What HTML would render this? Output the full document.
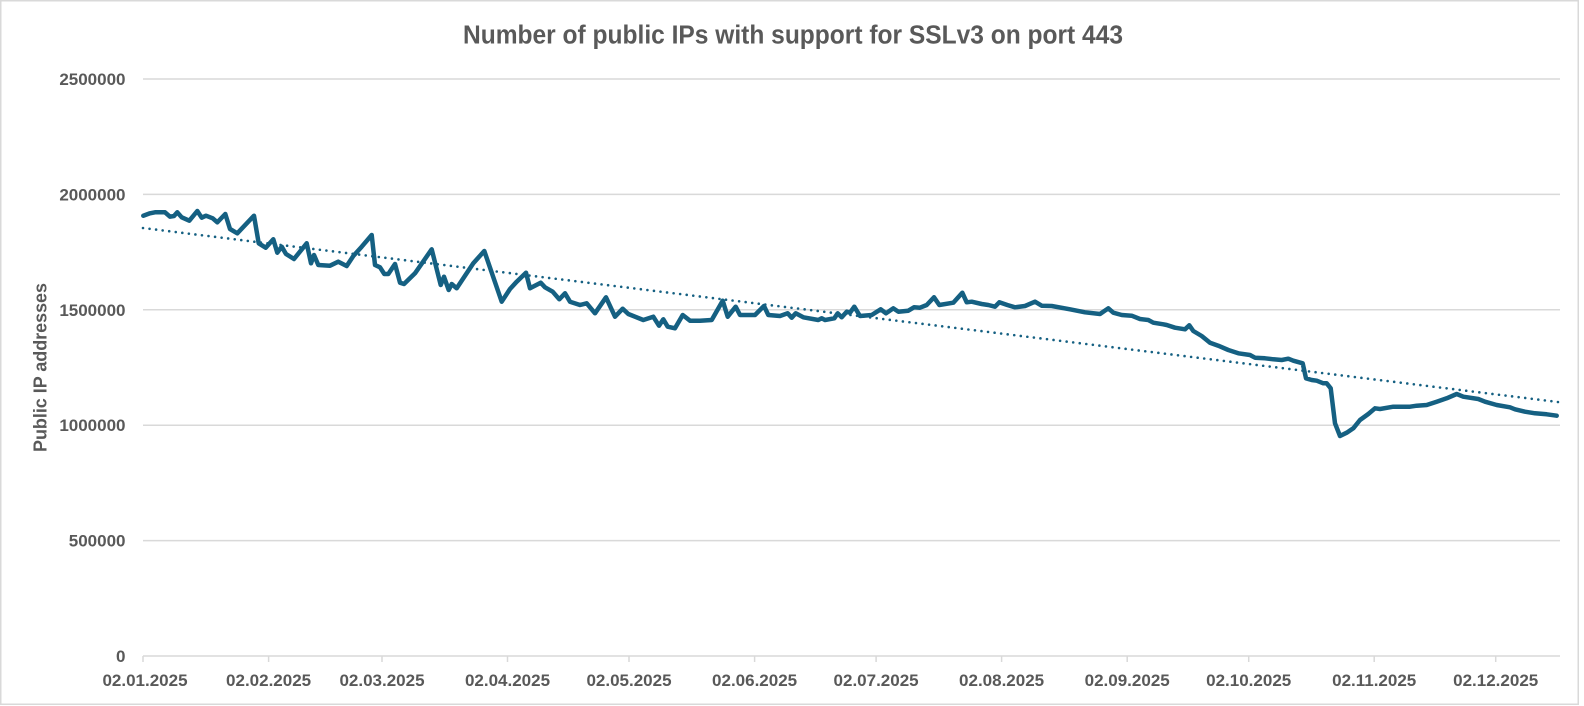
<!DOCTYPE html>
<html>
<head>
<meta charset="utf-8">
<style>
  html, body { margin:0; padding:0; background:#ffffff; }
  body { width:1584px; height:706px; overflow:hidden; }
  svg { display:block; }
  text { font-family: "Liberation Sans", Arial, sans-serif; fill:#595959; font-weight:bold; }
</style>
</head>
<body>
<svg width="1584" height="706" viewBox="0 0 1584 706" xmlns="http://www.w3.org/2000/svg">
  <rect x="0" y="0" width="1584" height="706" fill="#ffffff"/>
  <!-- chart border -->
  <rect x="0.75" y="0.75" width="1577.5" height="703.5" fill="none" stroke="#d9d9d9" stroke-width="1.5"/>

  <!-- title -->
  <text x="793" y="43.5" text-anchor="middle" font-size="25.5" textLength="660" lengthAdjust="spacingAndGlyphs">Number of public IPs with support for SSLv3 on port 443</text>

  <!-- gridlines -->
  <g stroke="#d9d9d9" stroke-width="1.5">
    <line x1="143" y1="79" x2="1560" y2="79"/>
    <line x1="143" y1="194.4" x2="1560" y2="194.4"/>
    <line x1="143" y1="309.8" x2="1560" y2="309.8"/>
    <line x1="143" y1="425.2" x2="1560" y2="425.2"/>
    <line x1="143" y1="540.6" x2="1560" y2="540.6"/>
    <line x1="143" y1="656" x2="1560" y2="656"/>
  </g>
  <!-- x ticks -->
  <g stroke="#d9d9d9" stroke-width="1.5">
    <line x1="143" y1="656" x2="143" y2="662"/>
    <line x1="268.6" y1="656" x2="268.6" y2="662"/>
    <line x1="382" y1="656" x2="382" y2="662"/>
    <line x1="507.5" y1="656" x2="507.5" y2="662"/>
    <line x1="629" y1="656" x2="629" y2="662"/>
    <line x1="754.6" y1="656" x2="754.6" y2="662"/>
    <line x1="876.1" y1="656" x2="876.1" y2="662"/>
    <line x1="1001.6" y1="656" x2="1001.6" y2="662"/>
    <line x1="1127.2" y1="656" x2="1127.2" y2="662"/>
    <line x1="1248.7" y1="656" x2="1248.7" y2="662"/>
    <line x1="1374.2" y1="656" x2="1374.2" y2="662"/>
    <line x1="1495.7" y1="656" x2="1495.7" y2="662"/>
  </g>

  <!-- y tick labels -->
  <g font-size="17" text-anchor="end">
    <text x="125.5" y="85">2500000</text>
    <text x="125.5" y="200.4">2000000</text>
    <text x="125.5" y="315.8">1500000</text>
    <text x="125.5" y="431.2">1000000</text>
    <text x="125.5" y="546.6">500000</text>
    <text x="125.5" y="662">0</text>
  </g>

  <!-- x tick labels -->
  <g font-size="17" text-anchor="middle">
    <text x="145" y="686">02.01.2025</text>
    <text x="268.6" y="686">02.02.2025</text>
    <text x="382" y="686">02.03.2025</text>
    <text x="507.5" y="686">02.04.2025</text>
    <text x="629" y="686">02.05.2025</text>
    <text x="754.6" y="686">02.06.2025</text>
    <text x="876.1" y="686">02.07.2025</text>
    <text x="1001.6" y="686">02.08.2025</text>
    <text x="1127.2" y="686">02.09.2025</text>
    <text x="1248.7" y="686">02.10.2025</text>
    <text x="1374.2" y="686">02.11.2025</text>
    <text x="1495.7" y="686">02.12.2025</text>
  </g>

  <!-- y axis title -->
  <text transform="translate(46.5,367.5) rotate(-90)" text-anchor="middle" font-size="18" textLength="169" lengthAdjust="spacingAndGlyphs">Public IP addresses</text>

  <!-- trendline -->
  <line x1="143" y1="228" x2="1558" y2="402" stroke="#156082" stroke-width="2.6" stroke-linecap="round" stroke-dasharray="0 6.6"/>

  <!-- data line -->
  <polyline fill="none" stroke="#156082" stroke-width="4.5" stroke-linejoin="round" stroke-linecap="round" points="143.3,215.7 150,213.3 155,212.3 165,212.3 170,216.7 174,216 177.3,212.3 181.7,217.3 189.3,220.7 197.3,211 201.7,217.7 206,215.7 212.7,218.3 217.3,222.3 225.3,214 230,229 237.3,233.3 254,215.7 258.7,243.3 265.7,247.7 273.3,239.3 277.3,252.7 281.7,246.7 286,254 294,259 306.7,243.3 311,263.3 314,255 318.3,265 330,265.7 338.3,261.7 346.7,266 353.3,256 361.7,246.7 371.7,235 375,265 380,267.3 384.3,274 388.3,274 395,264 400,282.7 404,284 415,273.3 431.7,249.3 440.7,285 444,276.7 448.7,290 451.7,284 456.7,288.3 473.3,263.3 484.3,251 501.7,301.7 510,289 516.7,281.7 526,272.7 530,288.3 540.7,282.7 545,287.3 552.7,291.7 559.3,299.3 565,293.3 570,301.7 580,305 586.7,303.3 595,313.3 606,297.3 615,316.7 622.7,308.7 628.3,314 643.3,320 653.3,316.7 659,325.7 663.3,319.3 667.7,326.7 675,328.3 682.7,315 690,320.7 700,320.7 711.7,320 722.7,300.7 727.7,316.7 735.7,306.7 740,315 755,315 764,306 768.3,315 780,316 787.7,313.3 791.7,317.7 795.7,313.3 803.3,317.3 818.3,320 821.7,318.3 825,320 834.3,318.3 837.7,313.3 841.7,317.3 846.7,311.7 850,312.7 854.3,306.7 860,316 871.7,315 880.7,309.3 886,313.3 893.3,308.3 898.3,311.7 908.3,310.7 914,307.3 920,307.7 926.7,305 934,297.3 939.3,305 953.3,302.7 962.3,292.7 966.7,302.3 971.7,301.7 981.7,304 988.3,305 995,306.7 999.3,302.3 1007.3,305 1015,307.3 1025,306 1035,301.7 1041.7,305.7 1051.7,306 1070,309.3 1085,312.3 1100,314 1108.3,308.3 1113.3,312.7 1121.7,315 1131.7,315.7 1140,319 1148.3,320 1153.3,322.7 1163.3,324.3 1166.7,325 1175,327.7 1185,329.3 1189.3,325.3 1193.3,331 1201.7,336 1210,342.7 1218.3,345.7 1228.3,350 1238.3,353.3 1250,355 1255,357.7 1265,358.3 1273.3,359.3 1281.7,360 1288.3,358.7 1293.3,360.7 1302.7,363.3 1306,378.3 1311.7,380 1316.7,380.7 1323.3,383.3 1326.7,383.3 1330.7,388.3 1335,423.3 1340,436 1346.7,432.7 1353.3,428.3 1360,420 1368.3,414 1375,408.3 1380,409 1393.3,406.7 1410,406.7 1416.7,405.7 1426.7,405 1436.7,401.7 1446.7,398.3 1456.7,394 1463.3,396.7 1478.3,399 1485,401.7 1496.7,405 1510,407.3 1515,409.3 1525,411.7 1535,413.3 1546.7,414.3 1556.7,415.7"/>
</svg>
</body>
</html>
